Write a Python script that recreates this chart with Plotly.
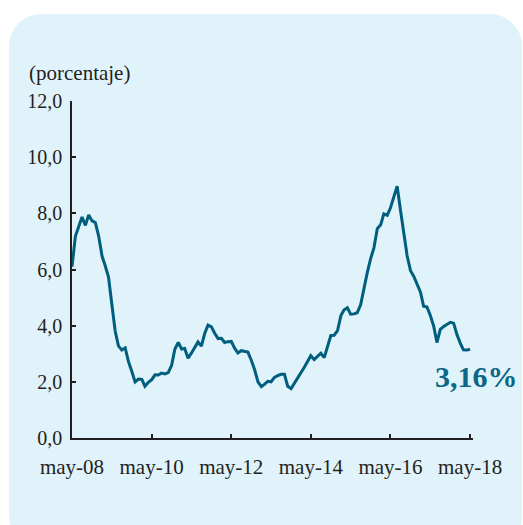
import plotly.graph_objects as go
import pandas as pd

# Monthly annual inflation (%), May 2008 - May 2018
values_2008 = [6.10, 7.18, 7.52, 7.87, 7.57, 7.94, 7.73, 7.67]
values_2009 = [7.18, 6.47, 6.14, 5.73, 4.78, 3.81, 3.28, 3.13, 3.21, 2.72, 2.37, 2.00]
values_2010 = [2.10, 2.09, 1.84, 1.98, 2.07, 2.25, 2.24, 2.31, 2.28, 2.33, 2.59, 3.17]
values_2011 = [3.40, 3.17, 3.19, 2.84, 3.02, 3.23, 3.42, 3.27, 3.73, 4.02, 3.96, 3.73]
values_2012 = [3.54, 3.55, 3.40, 3.43, 3.44, 3.20, 3.03, 3.11, 3.08, 3.06, 2.77, 2.44]
values_2013 = [2.00, 1.83, 1.91, 2.02, 2.00, 2.16, 2.22, 2.27, 2.27, 1.84, 1.76, 1.94]
values_2014 = [2.13, 2.32, 2.51, 2.72, 2.93, 2.79, 2.89, 3.02, 2.86, 3.29, 3.65, 3.66]
values_2015 = [3.82, 4.36, 4.56, 4.64, 4.41, 4.42, 4.46, 4.74, 5.35, 5.89, 6.39, 6.77]
values_2016 = [7.45, 7.59, 7.98, 7.93, 8.20, 8.60, 8.97, 8.10, 7.27, 6.48, 5.96, 5.75]
values_2017 = [5.47, 5.18, 4.69, 4.66, 4.37, 3.99, 3.40, 3.87, 3.97, 4.05, 4.12, 4.09]
values_2018 = [3.68, 3.37, 3.14, 3.13, 3.16]

inflation = (values_2008 + values_2009 + values_2010 + values_2011 + values_2012 +
             values_2013 + values_2014 + values_2015 + values_2016 + values_2017 + values_2018)
months = pd.date_range("2008-05-01", periods=len(inflation), freq="MS")

x_tick_dates = ["2008-05-01", "2010-05-01", "2012-05-01", "2014-05-01", "2016-05-01", "2018-05-01"]
x_tick_labels = ["may-08", "may-10", "may-12", "may-14", "may-16", "may-18"]
y_tick_values = [0, 2, 4, 6, 8, 10, 12]
y_tick_labels = ["0,0", "2,0", "4,0", "6,0", "8,0", "10,0", "12,0"]
last_label = "3,16%"
y_title = "(porcentaje)"

W, H = 523, 525
L, T = 72, 101
R = W - 473
B = H - 438
PW, PH = W - L - R, H - T - B

def px(x):
    return (x - L) / PW

def py(y):
    return 1 - (y - T) / PH

TEXT = "#231F20"
LINE = "#005E7E"
FONT = "Liberation Serif"

fig = go.Figure()
fig.add_trace(go.Scatter(x=months, y=inflation, mode="lines",
                         line=dict(color=LINE, width=3), hoverinfo="skip",
                         showlegend=False))

# rounded light-blue panel
x0, y0, x1, y1, r = 9, 14, 522, 548, 32
k = 0.45
path = (f"M {px(x0+r)},{py(y0)} L {px(x1-r)},{py(y0)} "
        f"C {px(x1-r*k)},{py(y0)} {px(x1)},{py(y0+r*k)} {px(x1)},{py(y0+r)} "
        f"L {px(x1)},{py(y1-r)} "
        f"C {px(x1)},{py(y1-r*k)} {px(x1-r*k)},{py(y1)} {px(x1-r)},{py(y1)} "
        f"L {px(x0+r)},{py(y1)} "
        f"C {px(x0+r*k)},{py(y1)} {px(x0)},{py(y1-r*k)} {px(x0)},{py(y1-r)} "
        f"L {px(x0)},{py(y0+r)} "
        f"C {px(x0)},{py(y0+r*k)} {px(x0+r*k)},{py(y0)} {px(x0+r)},{py(y0)} Z")
fig.add_shape(type="path", path=path, xref="paper", yref="paper",
              fillcolor="#E0F2FA", line=dict(width=0), layer="below")

fig.add_annotation(text=y_title, xref="paper", yref="paper", x=px(27), y=py(73),
                   xanchor="left", yanchor="middle", showarrow=False,
                   font=dict(family=FONT, size=21, color=TEXT))
fig.add_annotation(text=f"<b>{last_label}</b>", xref="paper", yref="paper",
                   x=px(476), y=py(376), xanchor="center", yanchor="middle",
                   showarrow=False, font=dict(family=FONT, size=30, color="#0B6688"))

fig.update_layout(
    width=W, height=H,
    margin=dict(l=L, r=R, t=T, b=B),
    paper_bgcolor="white", plot_bgcolor="rgba(0,0,0,0)",
    font=dict(family=FONT, size=20, color=TEXT),
)
fig.update_xaxes(range=["2008-05-01", "2018-05-28"], tickvals=x_tick_dates,
                 ticktext=x_tick_labels, showgrid=False, zeroline=False,
                 showline=True, linecolor=TEXT, linewidth=1.5,
                 ticks="inside", ticklen=4, tickwidth=1.5, tickcolor=TEXT,
                 tickfont=dict(family=FONT, size=21, color=TEXT),
                 ticklabelstandoff=9)
fig.update_yaxes(range=[0, 12], tickvals=y_tick_values, ticktext=y_tick_labels,
                 showgrid=False, zeroline=False, showline=True, linecolor=TEXT,
                 linewidth=1.5, ticks="inside", ticklen=4, tickwidth=1.5,
                 tickcolor=TEXT, tickfont=dict(family=FONT, size=20, color=TEXT),
                 ticklabelstandoff=4)

# remove the page's default body margin so the figure sits at the window origin
fig.write_html("out.html",
               config={"displayModeBar": False},
               post_script="document.body.style.margin='0';document.body.style.overflow='hidden';")
